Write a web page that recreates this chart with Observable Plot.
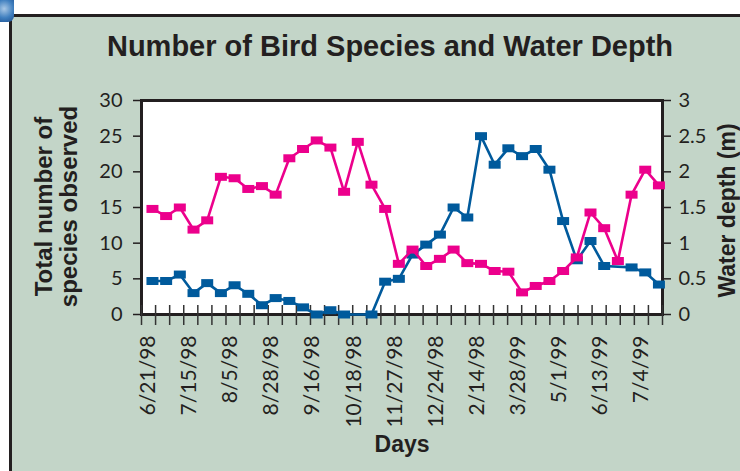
<!DOCTYPE html>
<html>
<head>
<meta charset="utf-8">
<script src="https://cdn.jsdelivr.net/npm/d3@7"></script>
<script src="https://cdn.jsdelivr.net/npm/@observablehq/plot@0.6"></script>
<style>
  html, body { margin: 0; padding: 0; background: #ffffff; }
  body { width: 740px; height: 471px; overflow: hidden; position: relative; }
  #panel { position: absolute; left: 9px; top: 14px; width: 740px; height: 470px;
           background: #c3d5c8; border-left: 3px solid #231f20; border-top: 3px solid #231f20; }
  #blob { position: absolute; left: 0; top: 0; width: 14px; height: 22px;
          background: radial-gradient(circle at 30% 40%, #a9c8e6 0%, #3f7fbf 55%, #1d4f8f 100%);
          border-bottom-right-radius: 6px; }
  #chart { position: absolute; left: 0; top: 0; }
</style>
</head>
<body>
<div id="panel"></div>
<div id="blob"></div>
<div id="chart"></div>
<script>
// ---- data ----
const dayLabels = ["6/21/98","7/15/98","8/5/98","8/28/98","9/16/98","10/18/98","11/27/98",
                   "12/24/98","2/14/98","3/28/99","5/1/99","6/13/99","7/4/99"];
// total number of species observed (left axis), one value per sampling day
const species = [14.8, 13.8, 15.0, 11.9, 13.2, 19.3, 19.1, 17.6, 18.0, 16.8,
                 21.9, 23.2, 24.4, 23.4, 17.2, 24.2, 18.2, 14.8, 7.1, 9.1,
                 6.8, 7.8, 9.1, 7.2, 7.1, 6.1, 6.0, 3.1, 4.0, 4.7,
                 6.1, 8.0, 14.3, 12.1, 7.5, 16.8, 20.3, 18.1];
// water depth in metres (right axis); null = no marker drawn on that day
const depth = [0.47, 0.47, 0.56, 0.30, 0.44, 0.30, 0.41, 0.29, 0.13, 0.23,
               0.19, 0.10, 0.00, 0.06, 0.00, null, 0.00, 0.46, 0.50, 0.84,
               0.98, 1.12, 1.50, 1.36, 2.50, 2.10, 2.33, 2.22, 2.32, 2.03,
               1.31, 0.76, 1.03, 0.68, null, 0.66, 0.59, 0.42];
const speciesTicks = [0, 5, 10, 15, 20, 25, 30];
const depthTicks = [0, 0.5, 1, 1.5, 2, 2.5, 3];

// ---- derived tables ----
const rows = species.map((s, i) => ({i, s, d: depth[i]}));
const depthRows = rows.filter(r => r.d != null);
const labelIdx = dayLabels.map((_, j) => j * 3);
const labelMap = new Map(labelIdx.map((v, j) => [v, dayLabels[j]]));

const pink = "#ec008c", blue = "#005a9c", ink = "#231f20";
const X0 = -0.8, X1 = 37.26;           // frame edges in sample-index units
const minorTicks = d3.range(38).map(k => X0 + k * (X1 - X0) / 37);

const rectSymbol = { draw(ctx) { ctx.moveTo(-6, -4); ctx.lineTo(6, -4); ctx.lineTo(6, 4); ctx.lineTo(-6, 4); ctx.closePath(); } };
const boldFont = "Liberation Sans, Arial, sans-serif";

const chart = Plot.plot({
  width: 740, height: 471,
  marginLeft: 141, marginRight: 78, marginTop: 100, marginBottom: 157,
  style: { background: "transparent", fontFamily: "Lato, sans-serif", color: ink, overflow: "visible" },
  x: { domain: [X0, X1] },
  y: { domain: [0, 30] },
  marks: [
    Plot.frame({ fill: "white" }),
    Plot.frame({ stroke: ink, strokeWidth: 3 }),
    Plot.tickX(minorTicks, { x: d => d, stroke: "#333", strokeWidth: 1.5, insetTop: 205, insetBottom: -11 }),
    Plot.axisY({ anchor: "left", ticks: speciesTicks, tickSize: 8, tickPadding: 11, fontSize: 20, strokeWidth: 1.5, label: null }),
    Plot.axisY({ anchor: "right", ticks: depthTicks.map(v => v * 10), tickFormat: v => String(v / 10),
                 tickSize: 8, tickPadding: 8, fontSize: 20, strokeWidth: 1.5, label: null }),
    Plot.axisX({ ticks: labelIdx, tickFormat: v => labelMap.get(v), tickSize: 0, tickPadding: 21,
                 tickRotate: -90, fontSize: 21, dx: -4, label: null }),
    // water depth (scaled x10 onto the species axis)
    Plot.line(depthRows, { x: "i", y: d => d.d * 10, stroke: blue, strokeWidth: 2.6 }),
    Plot.dot(depthRows, { x: "i", y: d => d.d * 10, symbol: rectSymbol, fill: blue, stroke: "none" }),
    // species
    Plot.line(rows, { x: "i", y: "s", stroke: pink, strokeWidth: 2.6 }),
    Plot.dot(rows, { x: "i", y: "s", symbol: rectSymbol, fill: pink, stroke: "none" }),
    // titles
    Plot.text(["Number of Bird Species and Water Depth"], { frameAnchor: "top", dx: -12, dy: -65,
      fontFamily: boldFont, fontWeight: "bold", fontSize: 29, fill: ink }),
    Plot.text(["Total number of"], { frameAnchor: "left", textAnchor: "middle", dx: -97, dy: -1, rotate: -90,
      fontFamily: boldFont, fontWeight: "bold", fontSize: 24, fill: ink }),
    Plot.text(["species observed"], { frameAnchor: "left", textAnchor: "middle", dx: -72, dy: -1, rotate: -90,
      fontFamily: boldFont, fontWeight: "bold", fontSize: 24, fill: ink }),
    Plot.text(["Water depth (m)"], { frameAnchor: "right", textAnchor: "middle", dx: 65, dy: 3, rotate: -90,
      fontFamily: boldFont, fontWeight: "bold", fontSize: 23, fill: ink }),
    Plot.text(["Days"], { frameAnchor: "bottom", dx: 0, dy: 137,
      fontFamily: boldFont, fontWeight: "bold", fontSize: 23, fill: ink })
  ]
});
document.getElementById("chart").appendChild(chart);
</script>
</body>
</html>
